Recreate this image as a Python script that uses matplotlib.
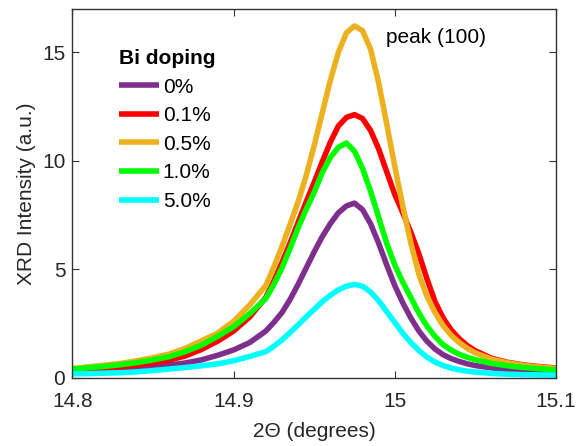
import matplotlib
matplotlib.use('Agg')
import matplotlib.pyplot as plt

plt.rcParams['font.family'] = ['Liberation Sans', 'DejaVu Sans']

# 2-theta (graus): passo mais fino em torno do pico
dois_theta = [14.80, 14.81, 14.82, 14.83, 14.84, 14.85, 14.86, 14.87, 14.88, 14.89, 14.90, 14.91,
              14.92, 14.925, 14.93, 14.935, 14.94, 14.945, 14.95, 14.955, 14.96, 14.965,
              14.97, 14.975, 14.98, 14.985, 14.99, 14.995, 15.00, 15.005, 15.01, 15.015,
              15.02, 15.025, 15.03, 15.035, 15.04, 15.045, 15.05,
              15.06, 15.07, 15.08, 15.09, 15.10]

# intensidade XRD (u.a.) para cada dopagem de Bi
bi_0 = [0.30, 0.33, 0.37, 0.43, 0.48, 0.53, 0.58, 0.68, 0.82, 1.03, 1.28, 1.62,
        2.15, 2.55, 3.00, 3.60, 4.30, 5.05, 5.80, 6.50, 7.10, 7.60,
        7.92, 8.05, 7.75, 7.10, 6.20, 5.20, 4.25, 3.45, 2.75, 2.15,
        1.68, 1.32, 1.06, 0.88, 0.75, 0.64, 0.56,
        0.45, 0.38, 0.33, 0.30, 0.27]
bi_01 = [0.33, 0.38, 0.44, 0.50, 0.58, 0.68, 0.81, 1.00, 1.30, 1.68, 2.15, 2.80,
         3.70, 4.45, 5.30, 6.20, 7.15, 8.10, 9.00, 9.95, 10.85, 11.60,
         12.00, 12.13, 11.95, 11.40, 10.55, 9.50, 8.45, 7.60, 6.70, 5.70,
         4.55, 3.50, 2.75, 2.20, 1.80, 1.48, 1.24,
         0.90, 0.71, 0.59, 0.51, 0.45]
bi_05 = [0.42, 0.50, 0.58, 0.66, 0.78, 0.92, 1.09, 1.35, 1.70, 2.05, 2.60, 3.35,
         4.25, 5.10, 6.05, 7.05, 8.10, 9.30, 10.70, 12.20, 13.70, 15.00,
         15.90, 16.22, 16.00, 15.15, 13.60, 11.70, 9.75, 7.90, 6.20, 4.75,
         3.75, 3.00, 2.40, 1.95, 1.62, 1.35, 1.14,
         0.86, 0.69, 0.57, 0.49, 0.43]
bi_10 = [0.40, 0.46, 0.52, 0.60, 0.70, 0.82, 0.97, 1.20, 1.50, 1.90, 2.35, 2.95,
         3.65, 4.30, 5.05, 5.95, 6.90, 7.75, 8.55, 9.45, 10.15, 10.62,
         10.82, 10.45, 9.65, 8.60, 7.40, 6.20, 5.20, 4.40, 3.70, 2.98,
         2.38, 1.90, 1.52, 1.27, 1.08, 0.94, 0.83,
         0.66, 0.55, 0.47, 0.41, 0.36]
bi_50 = [0.18, 0.19, 0.21, 0.23, 0.27, 0.33, 0.40, 0.47, 0.55, 0.64, 0.78, 0.98,
         1.20, 1.45, 1.74, 2.08, 2.43, 2.80, 3.15, 3.50, 3.80, 4.05,
         4.22, 4.30, 4.22, 3.95, 3.55, 3.05, 2.55, 2.05, 1.62, 1.25,
         0.95, 0.72, 0.56, 0.44, 0.36, 0.30, 0.26,
         0.20, 0.16, 0.14, 0.13, 0.12]

series = [bi_0, bi_01, bi_05, bi_10, bi_50]
rotulos = ['0%', '0.1%', '0.5%', '1.0%', '5.0%']
cores = ['#7E2F8E', '#FF0000', '#EDB120', '#00FF00', '#00FFFF']

fig = plt.figure(figsize=(5.77, 4.46), dpi=100)
ax = fig.add_axes([0.1253, 0.1531, 0.8383, 0.8267])

for y, rot, cor in zip(series, rotulos, cores):
    ax.plot(dois_theta, y, color=cor, linewidth=4.0, label=rot,
            solid_joinstyle='round', solid_capstyle='butt')

ax.set_xlim(14.8, 15.1)
ax.set_ylim(0, 17)
ax.set_xticks([14.8, 14.9, 15.0, 15.1])
ax.set_xticklabels(['14.8', '14.9', '15', '15.1'])
ax.set_yticks([0, 5, 10, 15])

cinza = '#262626'
for lado in ax.spines.values():
    lado.set_color('#333333')
    lado.set_linewidth(1.0)
ax.tick_params(direction='in', top=True, right=True, length=5, width=0.8,
               colors='#333333', labelcolor=cinza, labelsize=15)
ax.tick_params(axis='x', pad=10)
ax.tick_params(axis='y', pad=5)

ax.set_xlabel('2\u0398 (degrees)', fontsize=15, color=cinza, labelpad=8)
ax.set_ylabel('XRD Intensity (a.u.)', fontsize=15, color=cinza, labelpad=4)

ax.text(14.9946, 15.69, 'peak (100)', fontsize=15, color='black', va='center', ha='left')

leg = ax.legend(loc='upper left', bbox_to_anchor=(119 / 577, 1 - 49 / 446),
                bbox_transform=fig.transFigure, frameon=False, borderpad=0,
                title='Bi doping', fontsize=15, handlelength=1.92, handletextpad=0.18,
                labelspacing=0.46, borderaxespad=0, alignment='left')
leg.get_title().set_fontweight('bold')
leg.get_title().set_fontsize(15)

fig.savefig('out.png', dpi=100)
